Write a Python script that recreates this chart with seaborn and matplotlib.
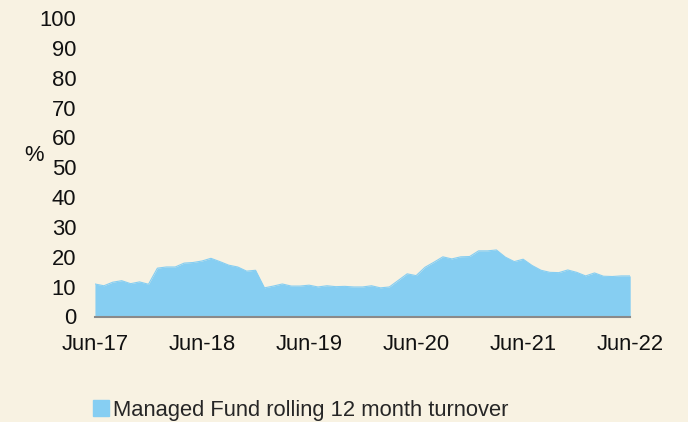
import matplotlib
matplotlib.use("Agg")
import matplotlib.pyplot as plt
import seaborn as sns
import pandas as pd
from matplotlib.patches import Patch

turnover = [10.9, 10.3, 11.5, 12.0, 11.0, 11.6, 10.8, 16.2, 16.6, 16.6,
            17.9, 18.1, 18.6, 19.5, 18.4, 17.2, 16.6, 15.2, 15.5, 9.6,
            10.2, 10.9, 10.2, 10.2, 10.5, 9.9, 10.3, 10.0, 10.1, 9.9,
            9.9, 10.3, 9.6, 9.9, 12.1, 14.3, 13.7, 16.5, 18.2, 20.0,
            19.3, 20.0, 20.1, 22.0, 22.0, 22.3, 19.9, 18.4, 19.2, 17.1,
            15.5, 14.8, 14.7, 15.6, 14.8, 13.6, 14.6, 13.5, 13.4, 13.6,
            13.6]
tick_labels = ["Jun-17", "Jun-18", "Jun-19", "Jun-20", "Jun-21", "Jun-22"]
series_name = "Managed Fund rolling 12 month turnover"

df = pd.DataFrame({"month": range(len(turnover)), "value": turnover})

bg = "#F8F2E2"
fill = "#86CEF2"

sns.set_theme(style="white")
plt.rcParams["font.family"] = ["Liberation Sans", "DejaVu Sans"]

fs = 15.8

fig = plt.figure(figsize=(6.88, 4.22), dpi=100, facecolor=bg)
ax = fig.add_axes([0.138, 0.25, 0.778, 0.707])
ax.set_facecolor(bg)

sns.lineplot(data=df, x="month", y="value", ax=ax, color=fill, linewidth=0.8)
ax.fill_between(df["month"], 0, df["value"], color=fill, linewidth=0)

ax.set_xlim(0, len(turnover) - 1)
ax.set_ylim(0, 100)
ax.set_yticks(range(0, 101, 10))
ax.set_xticks(range(0, len(turnover), 12))
ax.set_xticklabels(tick_labels)
ax.tick_params(axis="both", length=0, labelsize=fs, colors="#111111")
ax.tick_params(axis="x", pad=12.5)
ax.tick_params(axis="y", pad=13.5)
ax.set_xlabel("")
ax.set_ylabel("")

for s in ["top", "right", "left"]:
    ax.spines[s].set_visible(False)
ax.spines["bottom"].set_color("#8a8a8a")
ax.spines["bottom"].set_linewidth(1.5)

fig.text(0.049, 0.632, "%", fontsize=fs, color="#111111", ha="center", va="center")

handle = Patch(facecolor=fill, edgecolor=fill)
fig.legend([handle], [series_name], loc="center left",
           bbox_to_anchor=(0.135, 0.028), frameon=False, fontsize=fs,
           handlelength=0.75, handleheight=0.75, handletextpad=0.15,
           borderaxespad=0, borderpad=0)

fig.savefig("out.png", dpi=100, facecolor=bg)
